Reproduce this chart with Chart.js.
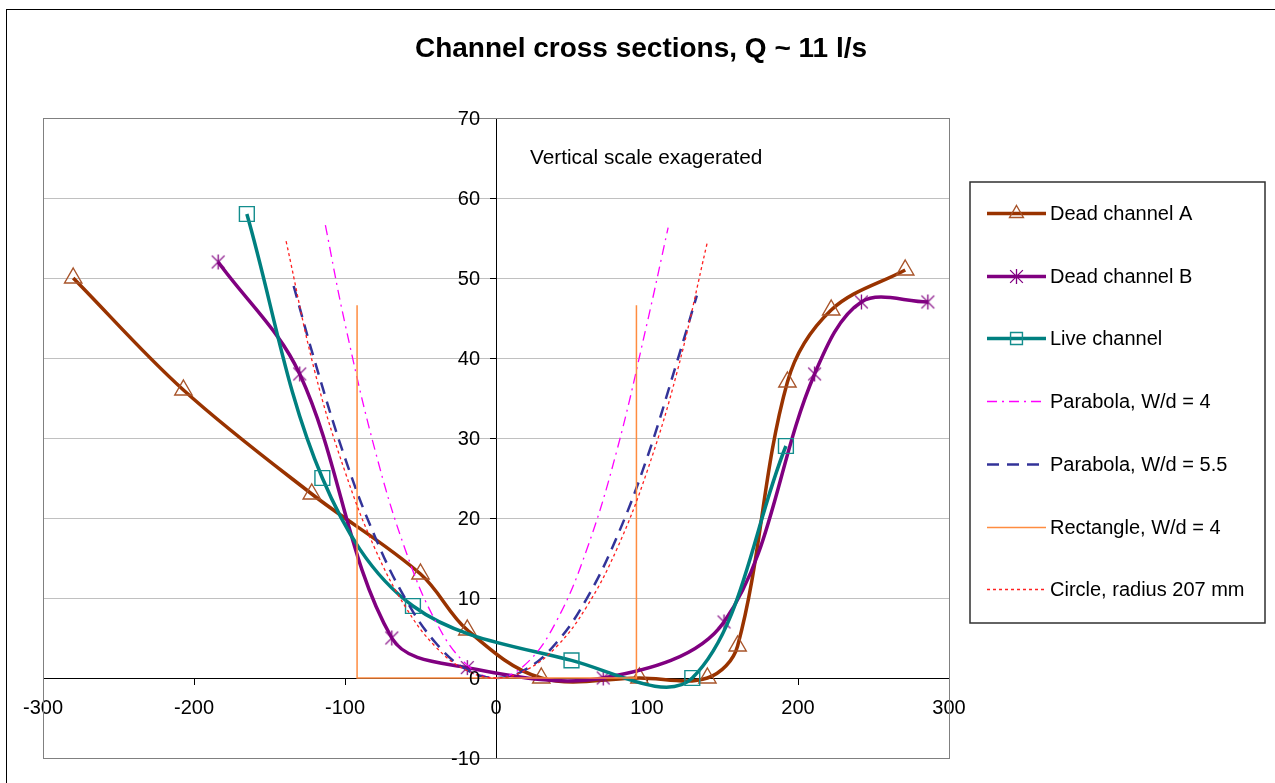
<!DOCTYPE html>
<html><head><meta charset="utf-8">
<script src="https://cdn.jsdelivr.net/npm/chart.js@4/dist/chart.umd.min.js"></script>
<style>html,body{margin:0;padding:0;background:#fff}canvas{display:block}</style>
</head><body>
<canvas id="c" width="1275" height="783"></canvas>
<script>
// ---- text ----
const titleText = 'Channel cross sections, Q ~ 11 l/s';
const noteText = 'Vertical scale exagerated';
const seriesNames = ['Dead channel A', 'Dead channel B', 'Live channel', 'Parabola, W/d = 4', 'Parabola, W/d = 5.5', 'Rectangle, W/d = 4', 'Circle, radius 207 mm'];

// ---- tick values ----
const xTickValues = [-300, -200, -100, 0, 100, 200, 300];
const yTickValues = [-10, 0, 10, 20, 30, 40, 50, 60, 70];

// ---- data ----
const deadAX = [-280, -207, -122, -50, -19, 30, 95, 140, 160, 193, 222, 271];
const deadAY = [50, 36, 23, 13, 6, 0, 0, 0, 4, 37, 46, 51];

const deadBX = [-184, -130, -69, -19, 71, 151, 211, 242, 286];
const deadBY = [52, 38, 5, 1.3, 0, 7, 38, 47, 47];

const liveX = [-165, -115, -55, 50, 130, 192];
const liveY = [58, 25, 9, 2.2, 0, 29];

const para4X = [-113, -100, -80, -60, -40, -20, 0, 20, 40, 60, 80, 100, 114];
const para4Y = [56.6, 44.3, 28.4, 16, 7.1, 1.8, 0, 1.8, 7.1, 16, 28.4, 44.3, 56.3];

const para55X = [-134, -120, -100, -80, -60, -40, -20, 0, 20, 40, 60, 80, 100, 120, 133];
const para55Y = [49, 39.6, 27.5, 17.6, 9.9, 4.4, 1.1, 0, 1.1, 4.4, 9.9, 17.6, 27.5, 39.6, 47.8];

const rectX = [-92, -92, 93, 93];
const rectY = [46.6, 0, 0, 46.6];

const circleX = [-139, -120, -100, -80, -60, -40, -20, 0, 20, 40, 60, 80, 100, 120, 140];
const circleY = [54.6, 38.3, 25.8, 16.1, 8.9, 3.9, 1.0, 0, 1.0, 3.9, 8.9, 16.1, 25.8, 38.3, 54.5];

function pts(xs, ys) { return xs.map((x, i) => ({ x: x, y: ys[i] })); }

function makeStar(color, size) {
  const c = document.createElement('canvas');
  c.width = size; c.height = size;
  const g = c.getContext('2d');
  g.strokeStyle = color; g.lineWidth = 1.3;
  const m = size / 2, r = size / 2 - 1;
  const d = r * 0.85;
  g.beginPath();
  g.moveTo(m - d, m - d); g.lineTo(m + d, m + d);
  g.moveTo(m + d, m - d); g.lineTo(m - d, m + d);
  g.moveTo(m, m - r); g.lineTo(m, m + r);
  g.stroke();
  return c;
}
const starImg = makeStar('#800080', 17);

const FONT = "'Liberation Sans', Arial, sans-serif";

const datasets = [
  { label: seriesNames[0], data: pts(deadAX, deadAY), borderColor: '#993300', borderWidth: 3.5,
    pointStyle: 'triangle', pointRadius: 10, pointBorderColor: '#a8542a', pointBorderWidth: 1.4,
    pointBackgroundColor: 'rgba(0,0,0,0)', tension: 0.35 },
  { label: seriesNames[1], data: pts(deadBX, deadBY), borderColor: '#800080', borderWidth: 3.5,
    pointStyle: starImg, pointRadius: 8, tension: 0.35 },
  { label: seriesNames[2], data: pts(liveX, liveY), borderColor: '#008080', borderWidth: 3.5,
    pointStyle: 'rect', pointRadius: 10.5, pointBorderColor: '#138d8d', pointBorderWidth: 1.4,
    pointBackgroundColor: 'rgba(0,0,0,0)', tension: 0.35 },
  { label: seriesNames[3], data: pts(para4X, para4Y), borderColor: '#ff00ff', borderWidth: 1.3,
    borderDash: [10, 5, 2, 5], pointRadius: 0, tension: 0.4 },
  { label: seriesNames[4], data: pts(para55X, para55Y), borderColor: '#333399', borderWidth: 2.5,
    borderDash: [12, 8], pointRadius: 0, tension: 0.4 },
  { label: seriesNames[5], data: pts(rectX, rectY), borderColor: '#ff8c40', borderWidth: 1.5,
    pointRadius: 0, tension: 0 },
  { label: seriesNames[6], data: pts(circleX, circleY), borderColor: '#ff2020', borderWidth: 1.3,
    borderDash: [3, 3], pointRadius: 0, tension: 0.4 }
];
datasets.forEach((d, i) => { d.showLine = true; d.order = datasets.length - i; d.fill = false; d.pointHoverRadius = d.pointRadius; });

const decor = {
  id: 'decor',
  beforeDraw(chart) {
    const ctx = chart.ctx;
    ctx.save();
    ctx.fillStyle = '#fff';
    ctx.fillRect(0, 0, chart.width, chart.height);
    ctx.strokeStyle = '#000'; ctx.lineWidth = 1;
    ctx.strokeRect(6.5, 9.5, chart.width + 10, chart.height + 10);
    ctx.restore();
  },
  beforeDatasetsDraw(chart) {
    const ctx = chart.ctx, a = chart.chartArea;
    ctx.save();
    ctx.strokeStyle = '#808080'; ctx.lineWidth = 1;
    ctx.strokeRect(Math.round(a.left) + 0.5, Math.round(a.top) + 0.5, Math.round(a.right - a.left), Math.round(a.bottom - a.top));
    ctx.restore();
  },
  afterDraw(chart) {
    const ctx = chart.ctx;
    const xs = chart.scales.x, ys = chart.scales.y;
    ctx.save();
    // y tick labels, left of the y axis (which crosses at x = 0)
    ctx.fillStyle = '#000';
    ctx.font = '20px ' + FONT;
    ctx.textAlign = 'right'; ctx.textBaseline = 'middle';
    const axisX = xs.getPixelForValue(0);
    ys.ticks.forEach(t => { ctx.fillText(String(t.value), axisX - 16, ys.getPixelForValue(t.value) + 1); });
    // title
    ctx.font = 'bold 28px ' + FONT;
    ctx.textAlign = 'center'; ctx.textBaseline = 'middle';
    ctx.fillText(titleText, 641, 49);
    // note
    ctx.font = '20.8px ' + FONT;
    ctx.textAlign = 'left';
    ctx.fillText(noteText, xs.getPixelForValue(22.5), ys.getPixelForValue(65));
    // legend
    const L = { left: 970, top: 182, right: 1265, bottom: 623, y0: 213, step: 62.7, x0: 987, x1: 1046, tx: 1050 };
    ctx.strokeStyle = '#303030'; ctx.lineWidth = 1.5;
    ctx.strokeRect(L.left, L.top, L.right - L.left, L.bottom - L.top);
    chart.data.datasets.forEach((d, i) => {
      const y = Math.round(L.y0 + i * L.step) + 0.5;
      ctx.save();
      ctx.strokeStyle = d.borderColor; ctx.lineWidth = Math.max(d.borderWidth, 1.5);
      ctx.setLineDash(d.borderDash || []);
      ctx.beginPath(); ctx.moveTo(L.x0, y); ctx.lineTo(L.x1, y); ctx.stroke();
      ctx.setLineDash([]);
      const cx = (L.x0 + L.x1) / 2;
      if (d.pointRadius > 0) {
        if (d.pointStyle instanceof HTMLCanvasElement) {
          ctx.drawImage(d.pointStyle, cx - d.pointStyle.width / 2, y - d.pointStyle.height / 2);
        } else {
          ctx.strokeStyle = d.pointBorderColor; ctx.lineWidth = d.pointBorderWidth;
          ctx.fillStyle = d.pointBackgroundColor;
          Chart.helpers.drawPoint(ctx, { pointStyle: d.pointStyle, radius: d.pointRadius * 0.8, rotation: 0, borderWidth: d.pointBorderWidth }, cx, y);
        }
      }
      ctx.restore();
      ctx.fillStyle = '#000';
      ctx.font = '20px ' + FONT;
      ctx.textAlign = 'left'; ctx.textBaseline = 'middle';
      ctx.fillText(d.label, L.tx, y + 1);
    });
    ctx.restore();
  }
};

new Chart(document.getElementById('c'), {
  type: 'scatter',
  data: { datasets: datasets },
  options: {
    responsive: false,
    animation: false,
    devicePixelRatio: 1,
    layout: { padding: { left: 43, top: 118, right: 326, bottom: 25 } },
    plugins: { legend: { display: false }, tooltip: { enabled: false }, title: { display: false } },
    scales: {
      x: {
        type: 'linear', min: -300, max: 300,
        position: { y: 0 },
        afterBuildTicks: s => { s.ticks = xTickValues.map(v => ({ value: v })); },
        grid: { display: true, drawOnChartArea: false, drawTicks: true, tickLength: 6, tickColor: '#000', tickWidth: 1 },
        border: { display: true, color: '#000', width: 1 },
        ticks: { color: '#000', font: { family: FONT, size: 20 }, padding: 12, maxRotation: 0, autoSkip: false }
      },
      y: {
        type: 'linear', min: -10, max: 70,
        position: { x: 0 },
        afterBuildTicks: s => { s.ticks = yTickValues.map(v => ({ value: v })); },
        grid: { display: true, drawOnChartArea: true, color: '#c0c0c0', lineWidth: 1, drawTicks: true, tickLength: 6, tickColor: '#000', tickWidth: 1 },
        border: { display: true, color: '#000', width: 1 },
        ticks: { display: false }
      }
    }
  },
  plugins: [decor]
});
</script>
</body></html>
